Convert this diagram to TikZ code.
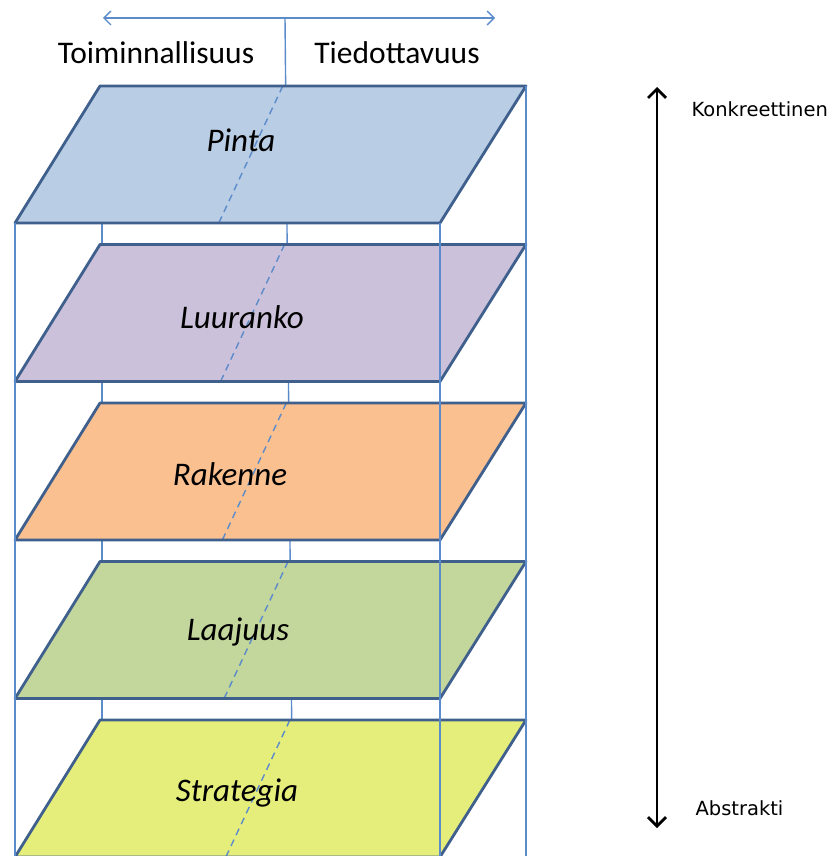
\documentclass[tikz,border=0pt]{standalone}
\usepackage{fontspec}
\setmainfont{Carlito}
\newfontfamily\sidefont{DejaVu Sans}
\usetikzlibrary{arrows.meta}
\definecolor{edgeblue}{HTML}{3F5F8C}
\definecolor{guideblue}{HTML}{5B8BCB}
\definecolor{cPinta}{HTML}{B9CDE5}
\definecolor{cLuuranko}{HTML}{CCC1DA}
\definecolor{cRakenne}{HTML}{FAC090}
\definecolor{cLaajuus}{HTML}{C3D69B}
\definecolor{cStrategia}{HTML}{E6EE7B}
\tikzset{
  guide/.style={draw=guideblue, line width=1.4pt},
  plane/.style={draw=edgeblue, line width=2.8pt, line join=round},
  divider/.style={draw=guideblue, line width=1.4pt, dash pattern=on 7pt off 5pt},
  headtext/.style={font=\fontsize{31.5}{35}\selectfont, text=black},
  planetext/.style={font=\fontsize{33}{37}\selectfont\itshape, text=black},
  sidetext/.style={font=\sidefont\fontsize{19.5}{22}\selectfont, text=black, anchor=west},
}
\begin{document}
\begin{tikzpicture}[x=1pt,y=-1pt]
\clip (0,0) rectangle (834,856);
\fill[white] (0,0) rectangle (834,856);

% hidden uprights behind the planes
\coordinate (midtop) at (285,18);
\coordinate (midbot) at (293,860);
\draw[guide] (midtop) -- (midbot);
\draw[guide] (102,223) coordinate (lb1) -- (102,860) coordinate (lb2);

% the five planes, top to bottom
\foreach \name/\col [count=\i from 0] in {Pinta/cPinta, Luuranko/cLuuranko, Rakenne/cRakenne, Laajuus/cLaajuus, Strategia/cStrategia}{
  \pgfmathsetmacro{\t}{86+158.5*\i}
  \pgfmathsetmacro{\b}{\t+137}
  \pgfmathsetmacro{\m}{285+0.0112*(\t-18)-3}
  \coordinate (\name-tl) at (100,\t);
  \coordinate (\name-tr) at (526,\t);
  \coordinate (\name-br) at (440,\b);
  \coordinate (\name-bl) at (15,\b);
  \coordinate (\name-dt) at (\m,\t);
  \coordinate (\name-db) at (\m-64,\b);
  \path[fill=\col] (\name-tl) -- (\name-tr) -- (\name-br) -- (\name-bl) -- cycle;
  \draw[divider] (\name-dt) -- (\name-db);
  \draw[plane] (\name-tl) -- (\name-tr) -- (\name-br) -- (\name-bl) -- cycle;
}

% front uprights
\draw[guide] (Pinta-bl) -- (15,860);
\draw[guide] (Pinta-br) -- (440,860);
\draw[guide] (Pinta-tr) -- (526,860);

% plane labels
\node[planetext] (lPinta) at (241,140) {Pinta};
\node[planetext] (lLuuranko) at (242,317) {Luuranko};
\node[planetext] (lRakenne) at (230,474) {Rakenne};
\node[planetext] (lLaajuus) at (238,632) {Laajuus};
\node[planetext] (lStrategia) at (237,793) {Strategia};

% top axis
\coordinate (axl) at (103,18);
\coordinate (axr) at (495,18);
\draw[guide, {Straight Barb[length=7pt,width=14pt]}-{Straight Barb[length=7pt,width=14pt]}] (axl) -- (axr);
\node[headtext] (func) at (156,53) {Toiminnallisuus};
\node[headtext] (info) at (397,53) {Tiedottavuus};

% side scale
\coordinate (st) at (657,87);
\coordinate (sb) at (657,828);
\draw[line width=2.8pt, {Straight Barb[length=9pt,width=18pt]}-{Straight Barb[length=9pt,width=18pt]}] (st) -- (sb);
\node[sidetext] (konk) at (688,109) {Konkreettinen};
\node[sidetext] (abst) at (692,808) {Abstrakti};
\end{tikzpicture}
\end{document}
